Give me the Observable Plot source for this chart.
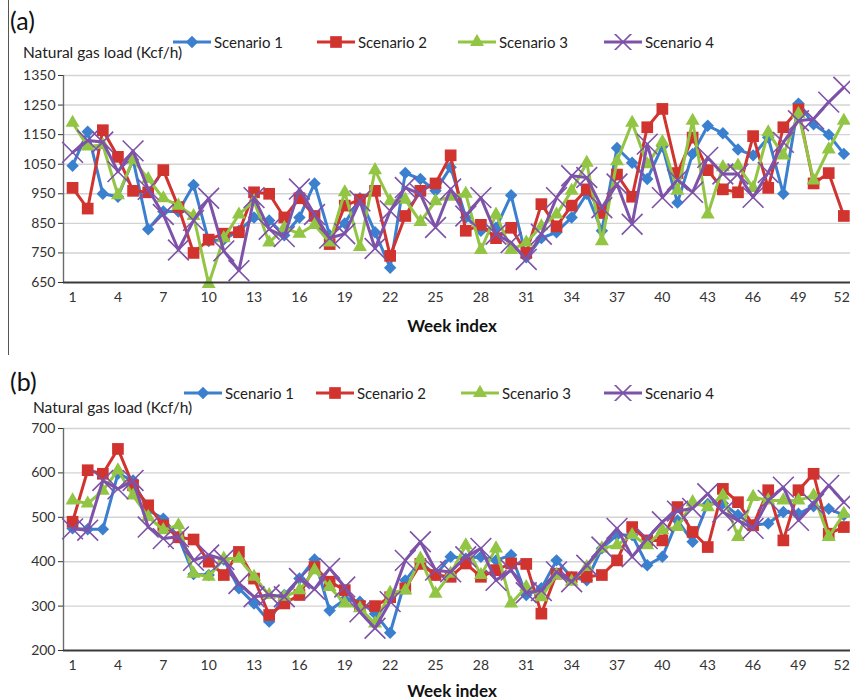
<!DOCTYPE html>
<html>
<head>
<meta charset="utf-8">
<script src="https://cdn.jsdelivr.net/npm/d3@7"></script>
<script src="https://cdn.jsdelivr.net/npm/@observablehq/plot@0.6"></script>
<style>
  body { margin: 0; background: #fff; font-family: Lato, "Open Sans", sans-serif; }
  #chart { position: relative; width: 850px; height: 700px; overflow: hidden; }
  .abs { position: absolute; white-space: nowrap; line-height: 1; }
  .tag { font-size: 25px; color: #111; }
  .ylab { font-size: 15.5px; color: #222; }
  .xlab { font-size: 17px; font-weight: bold; color: #111; transform: translateX(-50%); }
  .leg { font-size: 15px; color: #222; display: flex; align-items: center; }
  .divider { position: absolute; left: 8px; top: 0; height: 355px; border-left: 1px solid #555; }
</style>
</head>
<body>
<div id="chart"><div class="divider"></div></div>
<script>
// Weeks and series labels
const weeks = d3.range(1, 53);
const scenarios = ["Scenario 1", "Scenario 2", "Scenario 3", "Scenario 4"];
const colors = ["#3b7fcf", "#d1342f", "#93c544", "#7d52a8"];
const tickWeeks = [1, 4, 7, 10, 13, 16, 19, 22, 25, 28, 31, 34, 37, 40, 43, 46, 49, 52];

// (a) natural gas load per week, Kcf/h
const loadA1 = [1045,1160,950,940,1065,830,890,890,980,790, 795,825,870,860,810,870,985,810,850,935,
  820,700,1020,1000,960,1040,870,825,835,945, 735,800,820,870,950,825,1105,1055,1000,1110,
  920,1085,1180,1155,1100,1080,1140,950,1255,1185, 1150,1085];
const loadA2 = [970,900,1165,1075,960,955,1030,905,750,795, 815,820,955,950,870,935,875,780,910,930,
  960,740,875,960,985,1080,825,845,800,835, 750,915,840,910,965,885,1015,940,1175,1237,
  1020,1140,1030,965,955,1145,970,1175,1235,985, 1020,875];
const loadA3 = [1190,1110,1115,945,1065,1000,935,910,875,645, 800,880,925,785,835,815,845,785,955,770,
  1030,925,930,855,925,940,950,760,880,760, 785,840,880,960,1055,790,1060,1190,1050,1125,
  960,1197,880,1040,1045,970,1158,1080,1220,995, 1100,1197];
const loadA4 = [1090,1130,1125,1025,1095,965,880,760,860,935, 757,690,937,830,805,966,880,800,815,926,
  765,892,971,949,836,966,875,937,813,785, 728,813,937,1011,1005,903,983,847,1118,937,
  997,955,1073,1017,1017,938,1022,1124,1197,1203, 1260,1310];
const yTicksA = [650, 750, 850, 950, 1050, 1150, 1250, 1350];

// (b) natural gas load per week, Kcf/h
const loadB1 = [475,473,473,598,583,516,497,456,372,370, 405,340,306,265,325,362,405,290,315,310,
  283,240,358,400,370,411,407,411,403,415, 325,340,403,365,358,430,460,460,392,411,
  493,445,530,531,505,482,486,512,508,525, 519,505];
const loadB2 = [490,606,598,654,572,527,482,455,450,400, 370,422,362,280,306,325,388,355,336,300,
  300,320,340,395,370,366,396,366,381,396, 395,283,373,365,366,370,403,478,448,448,
  523,467,433,564,534,482,561,448,561,598, 463,478];
const loadB3 = [538,531,560,606,549,501,471,482,373,366, 407,407,366,325,321,336,381,343,306,295,
  261,330,335,407,328,373,437,370,430,306, 343,320,370,355,388,430,437,460,437,471,
  478,534,523,549,456,546,538,538,538,549, 456,508];
const loadB4 = [474,471,583,564,583,478,452,456,403,415, 405,351,321,325,321,362,338,385,343,287,
  250,310,403,445,381,377,411,430,358,381, 330,335,377,355,392,433,475,411,452,490,
  514,520,553,512,493,475,538,568,493,530, 572,534];
const yTicksB = [200, 300, 400, 500, 600, 700];

// marker look for each scenario
const markers = [
  {symbol: "diamond2", r: 5.6, fill: colors[0], stroke: "none", strokeWidth: 0},
  {symbol: "square", r: 6.6, fill: colors[1], stroke: "none", strokeWidth: 0},
  {symbol: "triangle", r: 5.2, fill: colors[2], stroke: "none", strokeWidth: 0},
  {symbol: "times", r: 9.5, fill: "none", stroke: colors[3], strokeWidth: 1.6}
];
const d3Symbols = [d3.symbolDiamond2, d3.symbolSquare, d3.symbolTriangle, d3.symbolTimes];

const chart = document.getElementById("chart");

function addDiv(cls, text, left, top) {
  const el = document.createElement("div");
  el.className = "abs " + cls;
  el.textContent = text;
  el.style.left = left + "px";
  el.style.top = top + "px";
  chart.appendChild(el);
  return el;
}

function legend(top, lineStarts) {
  scenarios.forEach((name, i) => {
    const box = document.createElement("div");
    box.className = "abs leg";
    box.style.left = lineStarts[i] + "px";
    box.style.top = top + "px";
    const sw = d3.create("svg").attr("width", 38).attr("height", 16).style("margin-right", "3px");
    sw.append("line").attr("x1", 0).attr("x2", 38).attr("y1", 8).attr("y2", 8)
      .attr("stroke", colors[i]).attr("stroke-width", 3);
    const m = markers[i];
    sw.append("path").attr("transform", "translate(19,8)")
      .attr("d", d3.symbol(d3Symbols[i], Math.PI * m.r * m.r)())
      .attr("fill", m.fill).attr("stroke", m.stroke).attr("stroke-width", m.strokeWidth);
    box.appendChild(sw.node());
    const t = document.createElement("span");
    t.textContent = name;
    box.appendChild(t);
    chart.appendChild(box);
  });
}

function panel(series, yTicks, top, plotHeight) {
  const yMin = yTicks[0], yMax = yTicks[yTicks.length - 1];
  const lastWeek = tickWeeks[tickWeeks.length - 1];
  const axisStyle = {tickFormat: d => String(d), tickSize: 0, tickPadding: 10,
    fontSize: 14, label: null, color: "#333"};
  const marks = [
    Plot.ruleY(yTicks.slice(1), {stroke: "#d3d3d3", strokeWidth: 1.4}),
    Plot.axisY({ticks: yTicks, tickFormat: d => String(d), tickSize: 5, tickPadding: 3,
      fontSize: 14, label: null, color: "#333"}),
    // week labels; the last one sits flush against the right edge
    Plot.axisX({ticks: tickWeeks.slice(0, -1), ...axisStyle}),
    Plot.axisX({ticks: [lastWeek], textAnchor: "end", dx: 6, ...axisStyle}),
    Plot.ruleX([0.4], {y1: yMin, y2: yMax, stroke: "#6a6a6a", strokeWidth: 1.4})
  ];
  series.forEach((vals, i) => {
    const rows = weeks.map((w, k) => ({week: w, value: vals[k]}));
    marks.push(Plot.line(rows, {x: "week", y: "value", stroke: colors[i], strokeWidth: 3}));
    marks.push(Plot.dot(rows, {x: "week", y: "value", ...markers[i]}));
  });
  marks.push(Plot.ruleY([yMin], {stroke: "#3a3a3a", strokeWidth: 2}));
  const svg = Plot.plot({
    width: 850,
    height: 10 + plotHeight + 38,
    marginLeft: 63, marginRight: 0, marginTop: 10, marginBottom: 38,
    x: {type: "linear", domain: [0.4, 52.44]},
    y: {domain: [yMin, yMax]},
    style: {fontFamily: "Lato, 'Open Sans', sans-serif", background: "transparent", overflow: "visible"},
    marks
  });
  svg.style.position = "absolute";
  svg.style.left = "0px";
  svg.style.top = top + "px";
  chart.appendChild(svg);
}

// panel (a)
addDiv("tag", "(a)", 10, 8);
legend(34, [173, 317, 458, 604]);
addDiv("ylab", "Natural gas load (Kcf/h)", 23, 45);
panel([loadA1, loadA2, loadA3, loadA4], yTicksA, 65, 207);
addDiv("xlab", "Week index", 452, 317);

// panel (b)
addDiv("tag", "(b)", 10, 369);
legend(385, [184, 316, 461, 604]);
addDiv("ylab", "Natural gas load (Kcf/h)", 33, 400);
panel([loadB1, loadB2, loadB3, loadB4], yTicksB, 418, 222);
addDiv("xlab", "Week index", 452, 682);
</script>
</body>
</html>
